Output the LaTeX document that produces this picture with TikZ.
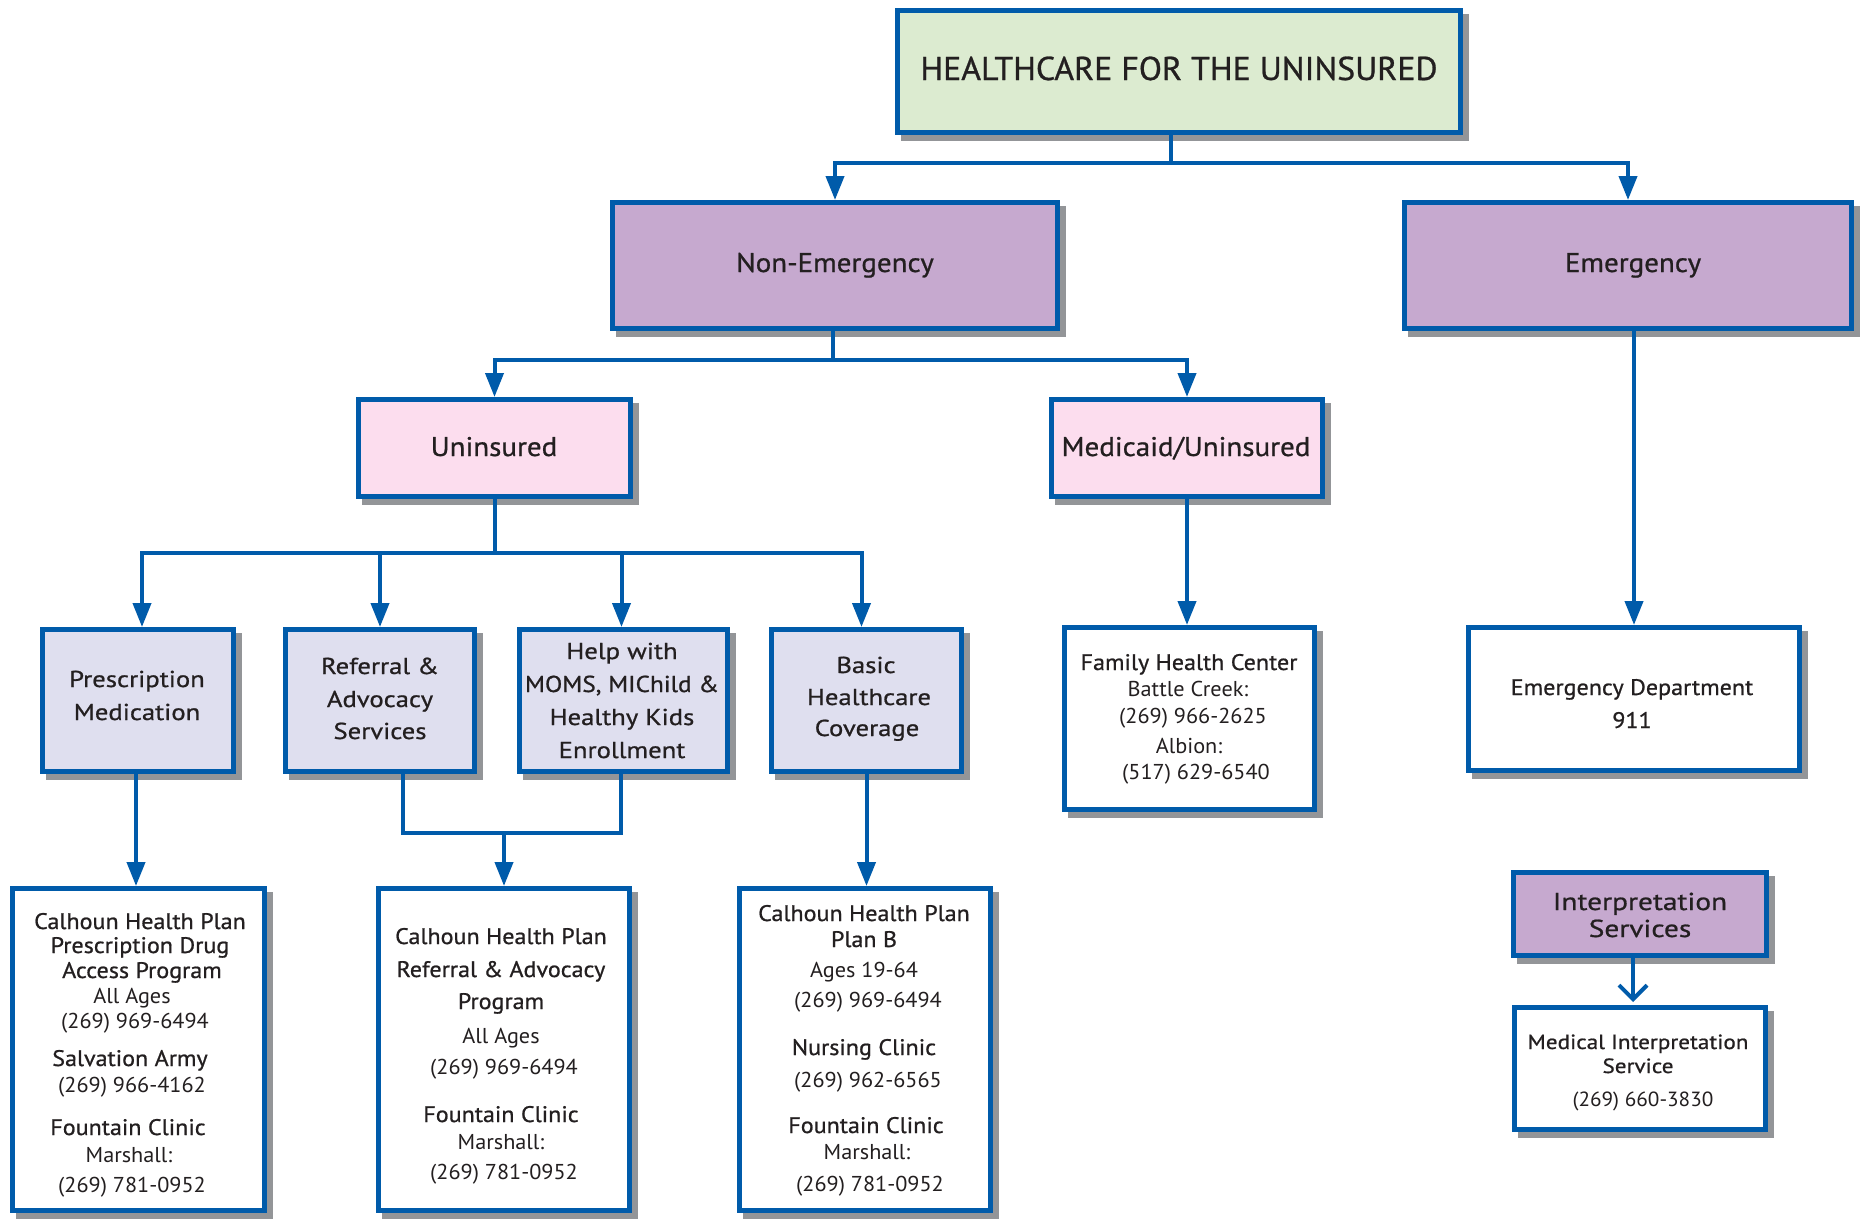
\documentclass[tikz,border=0pt]{standalone}
\usepackage{fontspec}
\setmainfont{PT Sans}
\newfontfamily\fTitle{PT Sans}[FakeStretch=1.025,BoldFont={PT Sans},BoldFeatures={FakeBold=0.8}]
\newfontfamily\fTwo{PT Sans}[FakeStretch=1.075,BoldFont={PT Sans},BoldFeatures={FakeBold=0.8}]
\newfontfamily\fFour{PT Sans}[FakeStretch=1.16,BoldFont={PT Sans},BoldFeatures={FakeBold=0.8}]
\newfontfamily\fFourb{PT Sans}[FakeStretch=1.1,BoldFont={PT Sans},BoldFeatures={FakeBold=0.8}]
\newfontfamily\fHd{PT Sans}[FakeStretch=1.07,BoldFont={PT Sans},BoldFeatures={FakeBold=0.8}]
\newfontfamily\fDt{PT Sans}[FakeStretch=1.035]
\newfontfamily\fIs{PT Sans}[FakeStretch=1.2,BoldFont={PT Sans},BoldFeatures={FakeBold=0.8}]
\newfontfamily\fMs{PT Sans}[FakeStretch=1.13,BoldFont={PT Sans},BoldFeatures={FakeBold=0.8}]
\usetikzlibrary{arrows.meta}
\definecolor{bl}{HTML}{005BAA}
\definecolor{shd}{HTML}{939598}
\definecolor{gfill}{HTML}{DCEBD0}
\definecolor{pfill}{HTML}{C6A9CF}
\definecolor{kfill}{HTML}{FCDDEE}
\definecolor{lfill}{HTML}{DFDFEF}
\definecolor{tx}{HTML}{231F20}
\newcommand\mybox[6]{%
  \fill[shd] (#2+6,#3+6) rectangle (#4+6,#5+6);
  \node[bx,fill=#6,minimum width=#4-#2-5,minimum height=#5-#3-5] (#1) at ({(#2+#4)/2},{(#3+#5)/2}) {};}
\newcommand\tl[5]{\node[anchor=base,text=tx,inner sep=0pt,#4] (#1) at (#2,#3) {#5};}
\tikzset{
  bx/.style={draw=bl,line width=5pt,inner sep=0pt,outer sep=2.5pt,rectangle},
  ln/.style={draw=bl,line width=4pt},
  ar/.style={ln,-{Triangle[length=24pt,width=18pt]}},
  ttl/.style={font=\fTitle\fontsize{33}{40}\selectfont\bfseries},
  ltwo/.style={font=\fTwo\fontsize{27}{32}\selectfont\bfseries},
  lfour/.style={font=\fFour\fontsize{23}{28}\selectfont\bfseries},
  lfourb/.style={font=\fFourb\fontsize{23}{28}\selectfont\bfseries},
  hd/.style={font=\fHd\fontsize{22.5}{26}\selectfont\bfseries},
  dt/.style={font=\fDt\fontsize{21.5}{26}\selectfont},
  isv/.style={font=\fIs\fontsize{24.5}{28}\selectfont\bfseries},
  ms/.style={font=\fMs\fontsize{20.5}{24}\selectfont\bfseries},
  msd/.style={font=\fDt\fontsize{20.5}{24}\selectfont},
}
\begin{document}
\begin{tikzpicture}[x=1pt,y=-1pt]
\useasboundingbox (0,0) rectangle (1865,1218);
\fill[white] (0,0) rectangle (1865,1218);
% boxes
\mybox{top}{895}{8}{1463}{135}{gfill}
\mybox{ne}{610}{200}{1060}{331}{pfill}
\mybox{em}{1402}{200}{1854}{331}{pfill}
\mybox{un}{356}{397}{633}{499}{kfill}
\mybox{md}{1049}{397}{1325}{499}{kfill}
\mybox{pm}{40}{627}{236}{774}{lfill}
\mybox{ra}{283}{627}{477}{774}{lfill}
\mybox{hw}{517}{627}{730}{774}{lfill}
\mybox{bh}{769}{627}{964}{774}{lfill}
\mybox{b1}{10}{886}{267}{1213}{white}
\mybox{b2}{376}{886}{632}{1213}{white}
\mybox{b3}{737}{886}{993}{1213}{white}
\mybox{fhc}{1062}{625}{1317}{812}{white}
\mybox{ed}{1466}{625}{1802}{773}{white}
\mybox{is}{1511}{870}{1769}{958}{pfill}
\mybox{mis}{1512}{1005}{1768}{1132}{white}
% connectors
\draw[ln] ([xshift=-8pt]top.south) -- ++(0,28) coordinate (j1);
\draw[ar] (j1) -| (ne.north);
\draw[ar] (j1) -| (em.north);
\draw[ln] ([xshift=-2pt]ne.south) -- ++(0,29) coordinate (j2);
\draw[ar] (j2) -| (un.north);
\draw[ar] (j2) -| (md.north);
\draw[ln] (un.south) -- ++(0,54) coordinate (j3);
\draw[ar] (j3) -| ([xshift=4pt]pm.north);
\draw[ar] (j3) -| (ra.north);
\draw[ar] (j3) -| ([xshift=-2pt]hw.north);
\draw[ar] (j3) -| ([xshift=-5pt]bh.north);
\draw[ar] ([xshift=-2pt]pm.south) -- ([xshift=-2pt]pm.south |- b1.north);
\coordinate (j5) at (504,833);
\draw[ln] ([xshift=23pt]ra.south) |- (j5) -| ([xshift=-3pt]hw.south);
\draw[ar] (j5) -- (b2.north);
\draw[ar] (bh.south) -- (bh.south |- b3.north);
\draw[ar] (md.south) -- (md.south |- fhc.north);
\draw[ar] (ed.north |- em.south) -- (ed.north);
\draw[ln,-{Straight Barb[length=14pt,width=28pt]}] ([xshift=-7pt]is.south) -- ([xshift=-7pt,yshift=3pt]mis.north);
% texts
\tl{t0}{1179}{80}{ttl}{HEALTHCARE FOR THE UNINSURED}
\tl{t1}{835}{272}{ltwo}{Non-Emergency}
\tl{t2}{1633}{272}{ltwo}{Emergency}
\tl{t3}{494}{456}{ltwo}{Uninsured}
\tl{t4}{1186}{456}{ltwo}{Medicaid/Uninsured}
\tl{p1}{137}{687}{lfour}{Prescription}
\tl{p2}{137}{720}{lfour}{Medication}
\tl{r1}{380}{674}{lfour}{Referral \&}
\tl{r2}{380}{707}{lfour}{Advocacy}
\tl{r3}{380}{739}{lfour}{Services}
\tl{h1}{622}{659}{lfour}{Help with}
\tl{h2}{622}{692}{lfourb}{MOMS, MIChild \&}
\tl{h3}{622}{725}{lfour}{Healthy Kids}
\tl{h4}{622}{758}{lfour}{Enrollment}
\tl{c1}{866}{673}{lfour}{Basic}
\tl{c2}{869}{705}{lfour}{Healthcare}
\tl{c3}{867}{736}{lfour}{Coverage}
\tl{b1a}{140}{929}{hd}{Calhoun Health Plan}
\tl{b1b}{140}{953}{hd}{Prescription Drug}
\tl{b1c}{142}{978}{hd}{Access Program}
\tl{b1d}{132}{1003}{dt}{All Ages}
\tl{b1e}{135}{1028}{dt}{(269) 969-6494}
\tl{b1f}{130}{1066}{hd}{Salvation Army}
\tl{b1g}{132}{1092}{dt}{(269) 966-4162}
\tl{b1h}{128}{1135}{hd}{Fountain Clinic}
\tl{b1i}{129}{1162}{dt}{Marshall:}
\tl{b1j}{132}{1192}{dt}{(269) 781-0952}
\tl{b2a}{501}{944}{hd}{Calhoun Health Plan}
\tl{b2b}{501}{977}{hd}{Referral \& Advocacy}
\tl{b2c}{501}{1009}{hd}{Program}
\tl{b2d}{501}{1043}{dt}{All Ages}
\tl{b2e}{504}{1074}{dt}{(269) 969-6494}
\tl{b2f}{501}{1122}{hd}{Fountain Clinic}
\tl{b2g}{501}{1149}{dt}{Marshall:}
\tl{b2h}{504}{1179}{dt}{(269) 781-0952}
\tl{b3a}{864}{921}{hd}{Calhoun Health Plan}
\tl{b3b}{864}{947}{hd}{Plan B}
\tl{b3c}{864}{977}{dt}{Ages 19-64}
\tl{b3d}{868}{1007}{dt}{(269) 969-6494}
\tl{b3e}{864}{1055}{hd}{Nursing Clinic}
\tl{b3f}{868}{1087}{dt}{(269) 962-6565}
\tl{b3g}{866}{1133}{hd}{Fountain Clinic}
\tl{b3h}{867}{1159}{dt}{Marshall:}
\tl{b3i}{870}{1191}{dt}{(269) 781-0952}
\tl{f1}{1189}{670}{hd}{Family Health Center}
\tl{f2}{1188}{696}{dt}{Battle Creek:}
\tl{f3}{1193}{723}{dt}{(269) 966-2625}
\tl{f4}{1189}{753}{dt}{Albion:}
\tl{f5}{1196}{779}{dt}{(517) 629-6540}
\tl{e1}{1632}{695}{hd}{Emergency Department}
\tl{e2}{1632}{728}{hd}{911}
\tl{i1}{1640}{910}{isv}{Interpretation}
\tl{i2}{1640}{937}{isv}{Services}
\tl{m1}{1638}{1049}{ms}{Medical Interpretation}
\tl{m2}{1638}{1073}{ms}{Service}
\tl{m3}{1643}{1106}{msd}{(269) 660-3830}
\end{tikzpicture}
\end{document}
